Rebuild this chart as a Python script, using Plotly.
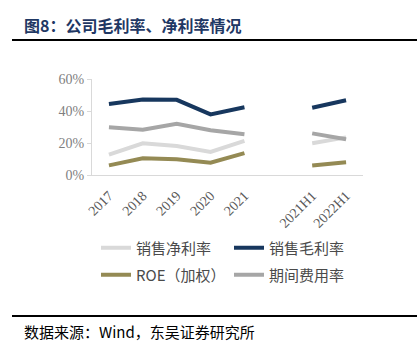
import plotly.graph_objects as go

categories = ["2017", "2018", "2019", "2020", "2021", " ", "2021H1", "2022H1"]
net_margin = [12.7, 19.8, 18.1, 14.4, 21.3, None, 19.8, 23.5]
gross_margin = [44.4, 47.2, 47.0, 37.9, 42.3, None, 42.0, 46.7]
roe = [6.0, 10.4, 9.8, 7.7, 13.7, None, 6.0, 7.9]
expense_ratio = [29.8, 28.3, 32.0, 28.0, 25.4, None, 26.0, 22.3]
y_ticks = [0, 20, 40, 60]
y_ticktext = ["0%", "20%", "40%", "60%"]

series = [
    ("销售净利率", net_margin, "#D9D9D9", "legend"),
    ("销售毛利率", gross_margin, "#17375E", "legend"),
    ("ROE（加权）", roe, "#948A54", "legend2"),
    ("期间费用率", expense_ratio, "#A6A6A6", "legend2"),
]

fig = go.Figure()
for name, vals, color, lg in series:
    fig.add_trace(go.Scatter(
        x=categories, y=vals, name=name, mode="lines", legend=lg,
        line=dict(color=color, width=4), connectgaps=False,
    ))

serif = "Liberation Serif, Noto Sans CJK SC"
W, H = 417, 348
L, R, T, B = 92, 54, 79, 173
pw, ph = W - L - R, H - T - B


def px(x):
    return (x - L) / pw


def py(y):
    return (H - B - y) / ph


legend_common = dict(
    orientation="h", xref="paper", yref="paper",
    xanchor="left", yanchor="middle",
    entrywidth=88, traceorder="normal",
    font=dict(family="Noto Sans CJK SC", size=15, color="#4A4A4A"),
    bgcolor="rgba(0,0,0,0)",
)

fig.update_layout(
    width=W, height=H,
    margin=dict(l=L, r=R, t=T, b=B),
    paper_bgcolor="white", plot_bgcolor="white",
    showlegend=True,
    legend=dict(legend_common, x=px(96), y=py(248)),
    legend2=dict(legend_common, x=px(96), y=py(275)),
    xaxis=dict(
        type="category", categoryorder="array", categoryarray=categories,
        range=[-0.5, 7.5], automargin=False,
        showline=True, linecolor="#D9D9D9", linewidth=1,
        showgrid=False, ticks="outside", ticklen=6, tickcolor="rgba(0,0,0,0)",
        tickangle=-45,
        tickfont=dict(family=serif, size=14, color="#595959"),
    ),
    yaxis=dict(
        range=[0, 60], tickvals=y_ticks, ticktext=y_ticktext, automargin=False,
        showline=True, linecolor="#D9D9D9", linewidth=1,
        showgrid=False, zeroline=False,
        ticks="outside", ticklen=4, tickcolor="#D9D9D9",
        tickfont=dict(family=serif, size=14, color="#7F7F7F"),
    ),
    shapes=[
        dict(type="line", xref="paper", yref="paper", x0=px(12), x1=px(W),
             y0=py(40), y1=py(40), line=dict(color="black", width=2)),
        dict(type="line", xref="paper", yref="paper", x0=px(12), x1=px(W),
             y0=py(316), y1=py(316), line=dict(color="black", width=2)),
    ],
    annotations=[
        dict(text="<b>图8：公司毛利率、净利率情况</b>", xref="paper", yref="paper",
             x=px(22), y=py(25), xanchor="left", yanchor="middle", showarrow=False,
             font=dict(family="Noto Sans CJK SC", size=16, color="#1F3864")),
        dict(text="数据来源：Wind，东吴证券研究所", xref="paper", yref="paper",
             x=px(22), y=py(331), xanchor="left", yanchor="middle", showarrow=False,
             font=dict(family="Noto Sans CJK SC", size=15, color="black")),
    ],
)

fig.write_html("out.html")
